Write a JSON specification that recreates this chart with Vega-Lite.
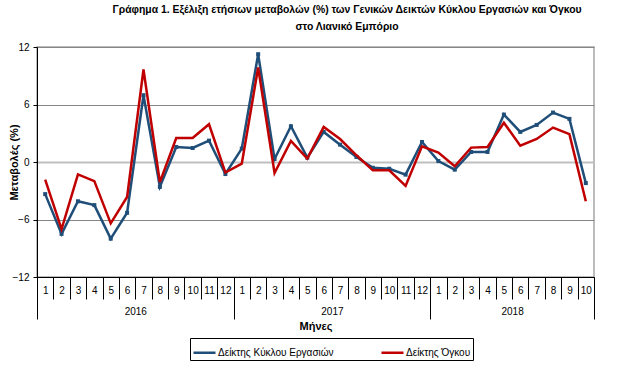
{
  "$schema": "https://vega.github.io/schema/vega-lite/v6.json",
  "width": 557,
  "height": 230,
  "autosize": "none",
  "padding": {"left": 37, "top": 47, "right": 31, "bottom": 90},
  "background": "white",
  "config": {
    "font": "Liberation Sans",
    "view": {"stroke": "#a6a6a6", "strokeWidth": 1.5},
    "axis": {"labelColor": "#000", "titleColor": "#000", "domainColor": "#000", "tickColor": "#000", "labelFont": "Liberation Sans", "titleFont": "Liberation Sans"}
  },
  "title": {
    "text": ["Γράφημα 1. Εξέλιξη ετήσιων μεταβολών (%) των Γενικών Δεικτών Κύκλου Εργασιών και Όγκου", "στο Λιανικό Εμπόριο"],
    "anchor": "middle",
    "dx": 31.5,
    "offset": 10,
    "fontSize": 10.4,
    "fontWeight": "bold",
    "lineHeight": 17,
    "color": "#000"
  },
  "data": {
    "values": [
      {"i": 1, "year": 2016, "month": 1, "series": "Δείκτης Κύκλου Εργασιών", "value": -3.35},
      {"i": 2, "year": 2016, "month": 2, "series": "Δείκτης Κύκλου Εργασιών", "value": -7.5},
      {"i": 3, "year": 2016, "month": 3, "series": "Δείκτης Κύκλου Εργασιών", "value": -4.1},
      {"i": 4, "year": 2016, "month": 4, "series": "Δείκτης Κύκλου Εργασιών", "value": -4.5},
      {"i": 5, "year": 2016, "month": 5, "series": "Δείκτης Κύκλου Εργασιών", "value": -8.0},
      {"i": 6, "year": 2016, "month": 6, "series": "Δείκτης Κύκλου Εργασιών", "value": -5.3},
      {"i": 7, "year": 2016, "month": 7, "series": "Δείκτης Κύκλου Εργασιών", "value": 6.97},
      {"i": 8, "year": 2016, "month": 8, "series": "Δείκτης Κύκλου Εργασιών", "value": -2.6},
      {"i": 9, "year": 2016, "month": 9, "series": "Δείκτης Κύκλου Εργασιών", "value": 1.57},
      {"i": 10, "year": 2016, "month": 10, "series": "Δείκτης Κύκλου Εργασιών", "value": 1.46},
      {"i": 11, "year": 2016, "month": 11, "series": "Δείκτης Κύκλου Εργασιών", "value": 2.23},
      {"i": 12, "year": 2016, "month": 12, "series": "Δείκτης Κύκλου Εργασιών", "value": -1.25},
      {"i": 13, "year": 2017, "month": 1, "series": "Δείκτης Κύκλου Εργασιών", "value": 1.4},
      {"i": 14, "year": 2017, "month": 2, "series": "Δείκτης Κύκλου Εργασιών", "value": 11.25},
      {"i": 15, "year": 2017, "month": 3, "series": "Δείκτης Κύκλου Εργασιών", "value": 0.31},
      {"i": 16, "year": 2017, "month": 4, "series": "Δείκτης Κύκλου Εργασιών", "value": 3.73},
      {"i": 17, "year": 2017, "month": 5, "series": "Δείκτης Κύκλου Εργασιών", "value": 0.45},
      {"i": 18, "year": 2017, "month": 6, "series": "Δείκτης Κύκλου Εργασιών", "value": 3.14},
      {"i": 19, "year": 2017, "month": 7, "series": "Δείκτης Κύκλου Εργασιών", "value": 1.81},
      {"i": 20, "year": 2017, "month": 8, "series": "Δείκτης Κύκλου Εργασιών", "value": 0.52},
      {"i": 21, "year": 2017, "month": 9, "series": "Δείκτης Κύκλου Εργασιών", "value": -0.6},
      {"i": 22, "year": 2017, "month": 10, "series": "Δείκτης Κύκλου Εργασιών", "value": -0.7},
      {"i": 23, "year": 2017, "month": 11, "series": "Δείκτης Κύκλου Εργασιών", "value": -1.32},
      {"i": 24, "year": 2017, "month": 12, "series": "Δείκτης Κύκλου Εργασιών", "value": 2.09},
      {"i": 25, "year": 2018, "month": 1, "series": "Δείκτης Κύκλου Εργασιών", "value": 0.1},
      {"i": 26, "year": 2018, "month": 2, "series": "Δείκτης Κύκλου Εργασιών", "value": -0.8},
      {"i": 27, "year": 2018, "month": 3, "series": "Δείκτης Κύκλου Εργασιών", "value": 1.05},
      {"i": 28, "year": 2018, "month": 4, "series": "Δείκτης Κύκλου Εργασιών", "value": 1.05},
      {"i": 29, "year": 2018, "month": 5, "series": "Δείκτης Κύκλου Εργασιών", "value": 4.95},
      {"i": 30, "year": 2018, "month": 6, "series": "Δείκτης Κύκλου Εργασιών", "value": 3.14},
      {"i": 31, "year": 2018, "month": 7, "series": "Δείκτης Κύκλου Εργασιών", "value": 3.87},
      {"i": 32, "year": 2018, "month": 8, "series": "Δείκτης Κύκλου Εργασιών", "value": 5.16},
      {"i": 33, "year": 2018, "month": 9, "series": "Δείκτης Κύκλου Εργασιών", "value": 4.5},
      {"i": 34, "year": 2018, "month": 10, "series": "Δείκτης Κύκλου Εργασιών", "value": -2.2},
      {"i": 1, "year": 2016, "month": 1, "series": "Δείκτης Όγκου", "value": -1.85},
      {"i": 2, "year": 2016, "month": 2, "series": "Δείκτης Όγκου", "value": -7.0},
      {"i": 3, "year": 2016, "month": 3, "series": "Δείκτης Όγκου", "value": -1.3},
      {"i": 4, "year": 2016, "month": 4, "series": "Δείκτης Όγκου", "value": -2.0},
      {"i": 5, "year": 2016, "month": 5, "series": "Δείκτης Όγκου", "value": -6.4},
      {"i": 6, "year": 2016, "month": 6, "series": "Δείκτης Όγκου", "value": -3.65},
      {"i": 7, "year": 2016, "month": 7, "series": "Δείκτης Όγκου", "value": 9.65},
      {"i": 8, "year": 2016, "month": 8, "series": "Δείκτης Όγκου", "value": -2.1},
      {"i": 9, "year": 2016, "month": 9, "series": "Δείκτης Όγκου", "value": 2.5},
      {"i": 10, "year": 2016, "month": 10, "series": "Δείκτης Όγκου", "value": 2.5},
      {"i": 11, "year": 2016, "month": 11, "series": "Δείκτης Όγκου", "value": 3.94},
      {"i": 12, "year": 2016, "month": 12, "series": "Δείκτης Όγκου", "value": -1.1},
      {"i": 13, "year": 2017, "month": 1, "series": "Δείκτης Όγκου", "value": -0.17},
      {"i": 14, "year": 2017, "month": 2, "series": "Δείκτης Όγκου", "value": 9.86},
      {"i": 15, "year": 2017, "month": 3, "series": "Δείκτης Όγκου", "value": -1.15},
      {"i": 16, "year": 2017, "month": 4, "series": "Δείκτης Όγκου", "value": 2.2},
      {"i": 17, "year": 2017, "month": 5, "series": "Δείκτης Όγκου", "value": 0.35},
      {"i": 18, "year": 2017, "month": 6, "series": "Δείκτης Όγκου", "value": 3.66},
      {"i": 19, "year": 2017, "month": 7, "series": "Δείκτης Όγκου", "value": 2.4},
      {"i": 20, "year": 2017, "month": 8, "series": "Δείκτης Όγκου", "value": 0.7},
      {"i": 21, "year": 2017, "month": 9, "series": "Δείκτης Όγκου", "value": -0.87},
      {"i": 22, "year": 2017, "month": 10, "series": "Δείκτης Όγκου", "value": -0.87},
      {"i": 23, "year": 2017, "month": 11, "series": "Δείκτης Όγκου", "value": -2.5},
      {"i": 24, "year": 2017, "month": 12, "series": "Δείκτης Όγκου", "value": 1.64},
      {"i": 25, "year": 2018, "month": 1, "series": "Δείκτης Όγκου", "value": 0.98},
      {"i": 26, "year": 2018, "month": 2, "series": "Δείκτης Όγκου", "value": -0.45},
      {"i": 27, "year": 2018, "month": 3, "series": "Δείκτης Όγκου", "value": 1.5},
      {"i": 28, "year": 2018, "month": 4, "series": "Δείκτης Όγκου", "value": 1.57},
      {"i": 29, "year": 2018, "month": 5, "series": "Δείκτης Όγκου", "value": 4.1},
      {"i": 30, "year": 2018, "month": 6, "series": "Δείκτης Όγκου", "value": 1.7},
      {"i": 31, "year": 2018, "month": 7, "series": "Δείκτης Όγκου", "value": 2.4},
      {"i": 32, "year": 2018, "month": 8, "series": "Δείκτης Όγκου", "value": 3.59},
      {"i": 33, "year": 2018, "month": 9, "series": "Δείκτης Όγκου", "value": 2.9},
      {"i": 34, "year": 2018, "month": 10, "series": "Δείκτης Όγκου", "value": -4.1}
    ]
  },
  "resolve": {"scale": {"x": "independent"}, "axis": {"x": "independent"}},
  "layer": [
    {
      "transform": [{"filter": "datum.series == 'Δείκτης Κύκλου Εργασιών'"}],
      "mark": {"type": "line", "strokeWidth": 2.5, "point": {"filled": true, "shape": "square", "size": 16}},
      "encoding": {
        "x": {
          "field": "i", "type": "quantitative",
          "scale": {"domain": [0.5, 34.5], "nice": false, "zero": false},
          "axis": {
            "orient": "bottom",
            "title": null,
            "grid": false,
            "values": [0.5, 1.5, 2.5, 3.5, 4.5, 5.5, 6.5, 7.5, 8.5, 9.5, 10.5, 11.5, 12.5, 13.5, 14.5, 15.5, 16.5, 17.5, 18.5, 19.5, 20.5, 21.5, 22.5, 23.5, 24.5, 25.5, 26.5, 27.5, 28.5, 29.5, 30.5, 31.5, 32.5, 33.5, 34.5],
            "labelExpr": "datum.value > 34 ? '' : '' + (((datum.value - 0.5) % 12) + 1)",
            "labelOffset": 8.19,
            "labelAngle": 0,
            "labelFlush": false,
            "labelOverlap": false,
            "labelBound": false,
            "labelFontSize": 10,
            "labelPadding": -14,
            "tickSize": 22,
            "tickWidth": 1
          }
        },
        "y": {
          "field": "value", "type": "quantitative",
          "scale": {"domain": [-12, 12], "nice": false},
          "axis": {
            "values": [-12, -6, 0, 6, 12],
            "title": "Μεταβολές (%)",
            "titleFontWeight": "bold",
            "titleFontSize": 11,
            "titleX": -23,
            "titleBaseline": "middle",
            "labelFontSize": 10,
            "labelPadding": 4,
            "tickSize": 4,
            "grid": true,
            "gridColor": {"condition": {"test": "datum.value == 0", "value": "#bfbfbf"}, "value": "#868686"},
            "gridWidth": {"condition": {"test": "datum.value == 0", "value": 2}, "value": 1}
          }
        },
        "color": {
          "field": "series", "type": "nominal",
          "scale": {"domain": ["Δείκτης Κύκλου Εργασιών", "Δείκτης Όγκου"], "range": ["#1F4E79", "#C00000"]},
          "legend": {
            "orient": "none",
            "legendX": 153,
            "legendY": 291,
            "direction": "horizontal",
            "title": null,
            "strokeColor": "#000",
            "padding": 2,
            "symbolType": "stroke",
            "symbolSize": 484,
            "symbolStrokeWidth": 2.5,
            "labelFontSize": 10,
            "labelColor": "#000",
            "labelOffset": 1,
            "columnPadding": 42
          }
        }
      }
    },
    {
      "transform": [{"filter": "datum.series == 'Δείκτης Όγκου'"}],
      "mark": {"type": "line", "strokeWidth": 2.5},
      "encoding": {
        "x": {
          "field": "i", "type": "quantitative",
          "scale": {"domain": [0.5, 34.5], "nice": false, "zero": false},
          "axis": {
            "orient": "bottom",
            "title": "Μήνες",
            "titleFontWeight": "bold",
            "titleFontSize": 11,
            "titlePadding": 1,
            "grid": false,
            "domain": false,
            "values": [0.5, 12.5, 24.5, 34.5],
            "labelExpr": "datum.value < 1 ? '2016' : datum.value < 13 ? '2017' : datum.value < 25 ? '2018' : ''",
            "labelOffset": {"condition": {"test": "datum.value > 24", "value": 81.9}, "value": 98.3},
            "labelAngle": 0,
            "labelFlush": false,
            "labelOverlap": false,
            "labelBound": false,
            "labelFontSize": 10,
            "labelPadding": -13,
            "tickSize": 42,
            "tickWidth": 1
          }
        },
        "y": {"field": "value", "type": "quantitative"},
        "color": {"field": "series", "type": "nominal"}
      }
    }
  ]
}
